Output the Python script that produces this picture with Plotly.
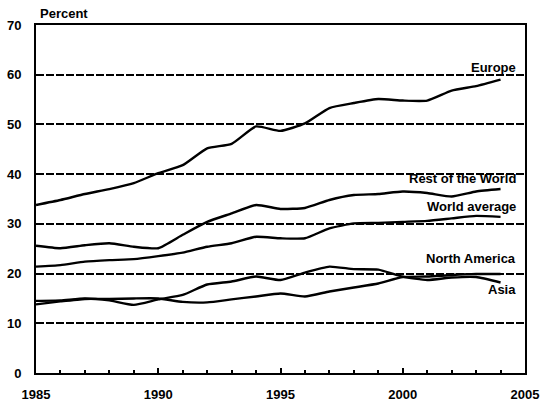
import plotly.graph_objects as go

# years on the x axis
years = list(range(1985, 2005))

# shares in percent
europe = [33.8, 34.8, 36.0, 37.0, 38.2, 40.2, 41.8, 45.2, 46.1, 49.6,
          48.7, 50.2, 53.3, 54.3, 55.1, 54.8, 54.8, 56.8, 57.7, 59.0]
rest_of_world = [25.6, 25.1, 25.7, 26.1, 25.4, 25.1, 27.8, 30.4, 32.1, 33.8,
                 33.0, 33.2, 34.8, 35.8, 36.0, 36.5, 36.2, 35.5, 36.5, 37.0]
world_average = [21.4, 21.7, 22.4, 22.7, 22.9, 23.5, 24.2, 25.4, 26.1, 27.4,
                 27.1, 27.1, 29.1, 30.1, 30.2, 30.4, 30.6, 31.1, 31.6, 31.4]
north_america = [13.8, 14.4, 14.9, 14.9, 15.0, 15.0, 14.3, 14.2, 14.8, 15.4,
                 16.0, 15.4, 16.4, 17.2, 18.0, 19.3, 19.4, 19.7, 19.9, 19.9]
asia = [14.5, 14.6, 15.0, 14.6, 13.7, 14.8, 15.7, 17.8, 18.4, 19.4,
        18.7, 20.2, 21.4, 20.9, 20.8, 19.4, 18.7, 19.2, 19.3, 18.2]

series = {
    "Europe": europe,
    "Rest of the World": rest_of_world,
    "World average": world_average,
    "North America": north_america,
    "Asia": asia,
}

# label text and where it sits (year, percent)
label_names = ["Europe", "Rest of the World", "World average", "North America", "Asia"]
label_y = [61.4, 39.2, 33.4, 23.1, 16.7]
label_x = 2004.7

fig = go.Figure()

for name, vals in series.items():
    fig.add_trace(go.Scatter(x=years, y=vals, mode="lines", name=name,
                             line=dict(color="black", width=2.4, shape="spline", smoothing=0.5)))

for name, yv in zip(label_names, label_y):
    fig.add_annotation(x=label_x, y=yv, text=name, showarrow=False,
                       xanchor="right", yanchor="middle",
                       font=dict(family="Liberation Sans", size=13, color="black", weight="bold"))

fig.add_annotation(x=0, y=1, xref="paper", yref="paper", text="Percent",
                   showarrow=False, xanchor="left", yanchor="bottom", xshift=2, yshift=2,
                   font=dict(family="Liberation Sans", size=13, color="black", weight="bold"))

fig.update_xaxes(range=[1985, 2005], tickmode="array", tickvals=[1985, 1990, 1995, 2000, 2005],
                 showgrid=False, zeroline=False, automargin=False,
                 showline=True, linecolor="black", linewidth=2, mirror=True,
                 ticks="inside", ticklen=5, tickwidth=1.5, tickcolor="black",
                 minor=dict(dtick=1, ticks="inside", ticklen=3, tickcolor="black", tickwidth=1.5),
                 ticklabelstandoff=8,
                 tickfont=dict(family="Liberation Sans", size=13, color="black", weight="bold"))

fig.update_yaxes(range=[0, 70], tickvals=[0, 10, 20, 30, 40, 50, 60, 70],
                 showgrid=True, gridcolor="black", gridwidth=1.5, griddash="8px,2px",
                 zeroline=False, showline=True, linecolor="black", linewidth=2, mirror=True,
                 ticks="", ticklabelstandoff=10, automargin=False,
                 tickfont=dict(family="Liberation Sans", size=13, color="black", weight="bold"))

fig.update_layout(width=541, height=409, showlegend=False,
                  margin=dict(l=36, r=16, t=25, b=36),
                  plot_bgcolor="white", paper_bgcolor="white")

# drop the default page margin so the figure fills the window without scrollbars
fig.write_html("out.html", config={"displayModeBar": False},
               post_script="document.body.style.margin='0';document.body.style.overflow='hidden';")
